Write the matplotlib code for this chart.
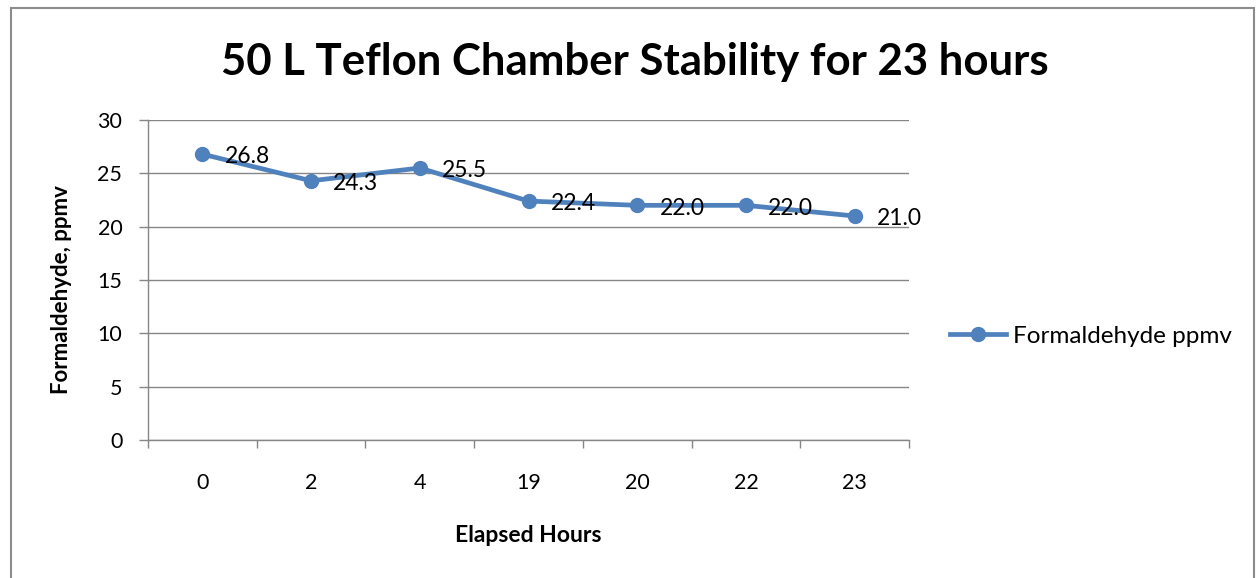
import matplotlib
matplotlib.use('Agg')
import matplotlib.pyplot as plt
from matplotlib.patches import Rectangle

# data
hours = ['0', '2', '4', '19', '20', '22', '23']
formaldehyde = [26.8, 24.3, 25.5, 22.4, 22.0, 22.0, 21.0]
series_name = 'Formaldehyde ppmv'

plt.rcParams['font.family'] = ['Lato', 'DejaVu Sans']
blue = '#4F81BD'
grey = '#868686'

fig = plt.figure(figsize=(12.57, 5.78), dpi=100)
fig.patches.append(Rectangle((11 / 1257, -0.05), 1243 / 1257, 1.05 - 8 / 578,
                             transform=fig.transFigure, fill=False,
                             edgecolor='#8c8c8c', linewidth=1.5))

ax = fig.add_axes([148 / 1257, 1 - 440 / 578, 761 / 1257, 320 / 578])
x = list(range(len(hours)))
line, = ax.plot(x, formaldehyde, color=blue, lw=3.4, marker='o', markersize=10,
                label=series_name, solid_joinstyle='round', zorder=3)

for xi, v in zip(x, formaldehyde):
    ax.annotate(f'{v:.1f}', (xi, v), xytext=(16, -2), textcoords='offset points',
                ha='left', va='center', fontsize=16.5, color='black', zorder=4)

ax.set_ylim(0, 30)
ax.set_yticks(range(0, 31, 5))
ax.set_xlim(-0.5, len(hours) - 0.5)
ax.set_xticks([i - 0.5 for i in range(len(hours) + 1)])
ax.set_xticklabels([])
ax.set_xticks(x, minor=True)
ax.set_xticklabels(hours, minor=True)
ax.tick_params(axis='x', which='major', direction='out', length=6, width=1, color=grey)
ax.tick_params(axis='x', which='minor', length=0, pad=24, labelsize=15.5)
ax.tick_params(axis='y', direction='out', length=6.5, width=1, color=grey,
               pad=12, labelsize=15.5)
ax.grid(axis='y', color=grey, lw=1)
ax.set_axisbelow(True)
for s in ['top', 'right']:
    ax.spines[s].set_visible(False)
for s in ['left', 'bottom']:
    ax.spines[s].set_color(grey)
    ax.spines[s].set_linewidth(1)

fig.text(635 / 1257, 1 - 62 / 578, '50 L Teflon Chamber Stability for 23 hours',
         ha='center', va='center', fontsize=31.5, fontweight='bold')
fig.text(528.5 / 1257, 1 - 535 / 578, 'Elapsed Hours', ha='center', va='center',
         fontsize=16.5, fontweight='bold')
fig.text(62 / 1257, 1 - 290 / 578, 'Formaldehyde, ppmv', ha='center', va='center',
         rotation=90, fontsize=16, fontweight='bold')

fig.legend(handles=[line], loc='center left', bbox_to_anchor=(940 / 1257, 1 - 336 / 578),
           frameon=False, fontsize=17.5, handlelength=2.3, handletextpad=0.3,
           borderaxespad=0)

fig.savefig('out.png', dpi=100)
